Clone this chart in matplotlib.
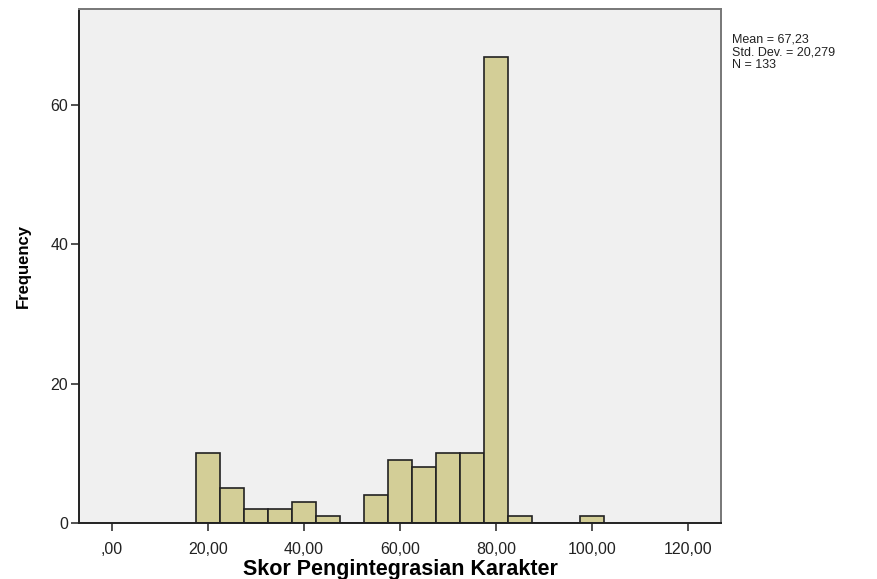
import numpy as np
import matplotlib.pyplot as plt

plt.rcParams['font.family'] = ['Liberation Sans', 'DejaVu Sans']

# Histogram of character-integration scores (bin width 5)
bin_centers = [20, 25, 30, 35, 40, 45, 50, 55, 60, 65, 70, 75, 80, 85, 90, 95, 100]
counts = [10, 5, 2, 2, 3, 1, 0, 4, 9, 8, 10, 10, 67, 1, 0, 0, 1]
x_ticks = [0, 20, 40, 60, 80, 100, 120]
x_tick_labels = [',00', '20,00', '40,00', '60,00', '80,00', '100,00', '120,00']
y_ticks = [0, 20, 40, 60]
stats_text = "Mean = 67,23\nStd. Dev. = 20,279\nN = 133"

fig = plt.figure(figsize=(8.78, 5.79), dpi=100)
ax = fig.add_axes([0.0905, 0.097, 0.7307, 0.887])
ax.set_facecolor('#F0F0F0')

ax.bar(bin_centers, counts, width=5, color='#D3CE97', edgecolor='#222222', linewidth=1.2)

ax.set_xlim(-6.8, 126.9)
ax.set_ylim(0, 73.8)
ax.set_xticks(x_ticks)
ax.set_xticklabels(x_tick_labels)
ax.set_yticks(y_ticks)
ax.tick_params(axis='both', direction='out', length=6, width=1.2, color='#333333', labelsize=11.5, labelcolor='#222222')
ax.tick_params(axis='x', pad=8)
ax.tick_params(axis='y', pad=2)

for side in ['left', 'bottom']:
    ax.spines[side].set_color('#222222')
    ax.spines[side].set_linewidth(1.4)
for side in ['top', 'right']:
    ax.spines[side].set_color('#777777')
    ax.spines[side].set_linewidth(1.4)

ax.set_xlabel('Skor Pengintegrasian Karakter', fontsize=15.5, fontweight='bold', labelpad=1)
ax.set_ylabel('Frequency', fontsize=12, fontweight='bold', labelpad=14)

fig.text(0.834, 0.942, stats_text, fontsize=9, va='top', ha='left', linespacing=1.1, color='#222222')

fig.savefig('out.png', dpi=100)
